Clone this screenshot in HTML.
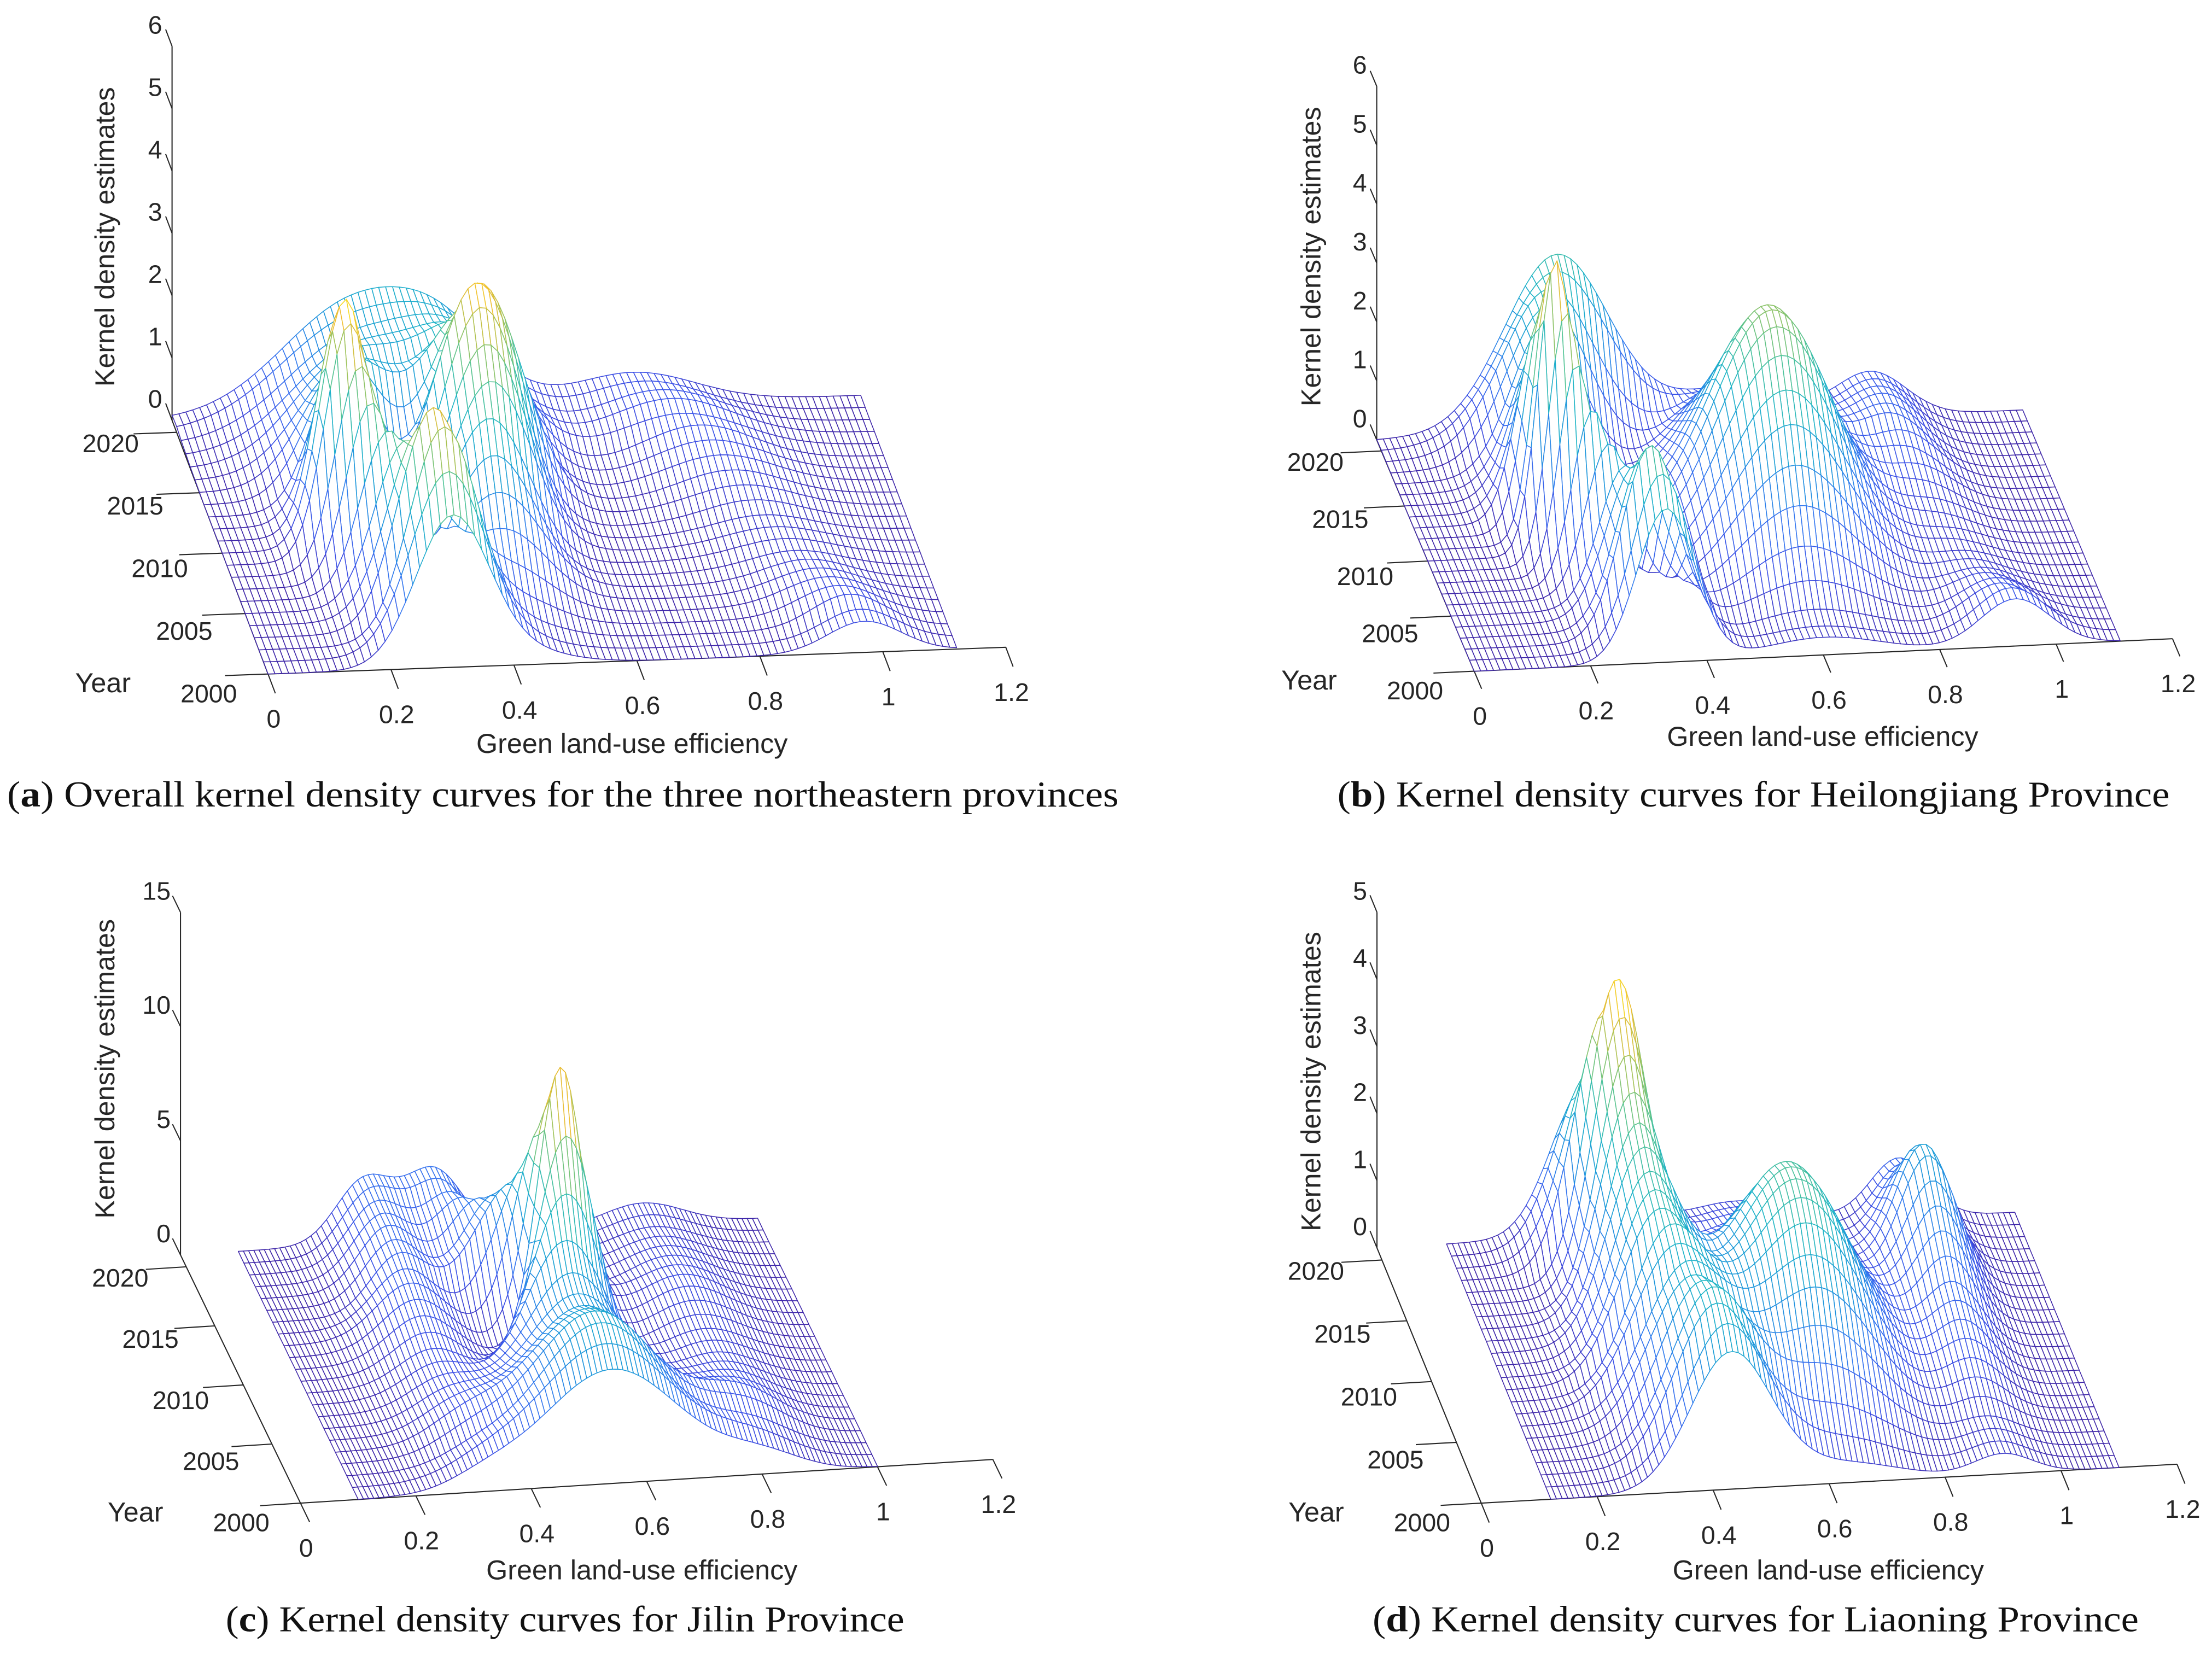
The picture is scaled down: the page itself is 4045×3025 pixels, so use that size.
<!DOCTYPE html>
<html><head><meta charset="utf-8"><style>
html,body{margin:0;padding:0;background:#fff}
svg{display:block}
.tk{font-family:"Liberation Sans",Arial,sans-serif;font-size:18px;fill:#262626}
.al{font-family:"Liberation Sans",Arial,sans-serif;font-size:19.5px;fill:#262626}
.cap{font-family:"Liberation Serif","Times New Roman",serif;font-size:26px;fill:#111}
</style></head><body>
<svg id="fig" xmlns="http://www.w3.org/2000/svg" width="4045" height="3025" viewBox="0 0 1568 1173" preserveAspectRatio="none">
<rect x="0" y="0" width="1568" height="1173" fill="#fff"/>
<text class="cap" x="5" y="572" textLength="788" lengthAdjust="spacingAndGlyphs">(<tspan font-weight="bold">a</tspan>) Overall kernel density curves for the three northeastern provinces</text>
<text class="cap" x="948" y="572" textLength="590" lengthAdjust="spacingAndGlyphs">(<tspan font-weight="bold">b</tspan>) Kernel density curves for Heilongjiang Province</text>
<text class="cap" x="160" y="1157" textLength="481" lengthAdjust="spacingAndGlyphs">(<tspan font-weight="bold">c</tspan>) Kernel density curves for Jilin Province</text>
<text class="cap" x="973" y="1157" textLength="543" lengthAdjust="spacingAndGlyphs">(<tspan font-weight="bold">d</tspan>) Kernel density curves for Liaoning Province</text>
</svg>
<script>
// ---- data (years 2000..2021) ----
var years = [2000,2001,2002,2003,2004,2005,2006,2007,2008,2009,2010,2011,2012,2013,2014,2015,2016,2017,2018,2019,2020,2021];
var xTicks = [0,0.2,0.4,0.6,0.8,1,1.2];
var xTickLabels = ["0","0.2","0.4","0.6","0.8","1","1.2"];
var yearTicks = [2000,2005,2010,2015,2020];
// panel a: overall
var aC1=[0.30,0.30,0.30,0.29,0.28,0.26,0.24,0.22,0.21,0.20,0.20,0.20,0.21,0.22,0.23,0.24,0.25,0.26,0.27,0.28,0.29,0.30];
var aH1=[2.4,2.9,3.4,3.5,3.0,2.6,2.6,2.9,3.3,3.8,4.0,3.6,3.0,2.5,2.2,2.0,1.8,1.7,1.6,1.6,1.7,1.8];
var aW1=[0.06,0.06,0.055,0.055,0.055,0.05,0.045,0.04,0.04,0.04,0.04,0.04,0.045,0.05,0.06,0.07,0.08,0.09,0.10,0.11,0.12,0.12];
var aC2=[0.42,0.42,0.42,0.42,0.42,0.42,0.42,0.42,0.42,0.43,0.43,0.43,0.43,0.44,0.44,0.44,0.45,0.45,0.45,0.45,0.45,0.45];
var aH2=[0.2,0.2,0.3,0.5,0.8,1.2,1.6,2.0,2.4,2.8,3.2,3.6,3.8,3.6,3.2,2.8,2.4,2.0,1.6,1.3,1.0,0.8];
var aW2=[0.07,0.07,0.07,0.07,0.07,0.07,0.07,0.065,0.065,0.065,0.065,0.065,0.07,0.07,0.07,0.075,0.075,0.08,0.08,0.08,0.08,0.08];
var aC3=[0.97,0.97,0.96,0.95,0.94,0.93,0.92,0.91,0.90,0.89,0.88,0.87,0.86,0.85,0.84,0.83,0.82,0.80,0.79,0.78,0.76,0.75];
var aH3=[0.5,0.5,0.55,0.5,0.45,0.4,0.35,0.3,0.3,0.3,0.3,0.35,0.4,0.45,0.5,0.55,0.6,0.6,0.65,0.6,0.55,0.5];
var aW3=[0.06,0.06,0.06,0.065,0.07,0.07,0.07,0.075,0.08,0.08,0.08,0.08,0.085,0.085,0.09,0.09,0.09,0.1,0.1,0.1,0.1,0.1];
// panel b: Heilongjiang
var bC1=[0.33,0.33,0.32,0.32,0.31,0.30,0.28,0.26,0.24,0.23,0.22,0.22,0.22,0.22,0.23,0.24,0.25,0.26,0.27,0.28,0.30,0.31];
var bH1=[2.6,3.0,3.3,3.0,2.6,2.4,2.6,3.0,3.6,4.3,5.0,4.6,4.0,3.5,3.0,2.8,2.6,2.6,2.7,2.8,2.9,3.0];
var bW1=[0.05,0.05,0.05,0.05,0.05,0.045,0.04,0.035,0.03,0.03,0.03,0.03,0.035,0.04,0.045,0.05,0.055,0.06,0.07,0.08,0.09,0.09];
var bC2=[0.60,0.60,0.60,0.60,0.60,0.60,0.60,0.60,0.60,0.60,0.60,0.60,0.60,0.60,0.60,0.60,0.60,0.60,0.60,0.60,0.60,0.60];
var bH2=[0.3,0.3,0.4,0.7,1.1,1.6,2.1,2.6,3.0,3.4,3.7,3.8,3.7,3.4,3.0,2.6,2.2,1.8,1.4,1.1,0.8,0.6];
var bW2=[0.1,0.1,0.1,0.1,0.1,0.1,0.1,0.1,0.1,0.1,0.1,0.1,0.1,0.1,0.1,0.1,0.1,0.1,0.1,0.1,0.1,0.1];
var bC3=[0.93,0.93,0.92,0.92,0.91,0.91,0.90,0.90,0.89,0.89,0.88,0.88,0.87,0.87,0.86,0.86,0.85,0.85,0.85,0.85,0.85,0.85];
var bH3=[0.8,0.8,0.7,0.6,0.5,0.4,0.35,0.3,0.3,0.3,0.35,0.4,0.5,0.6,0.7,0.8,0.9,0.9,0.9,0.85,0.8,0.75];
var bW3=[0.06,0.06,0.06,0.06,0.06,0.06,0.06,0.06,0.06,0.06,0.06,0.06,0.06,0.06,0.06,0.06,0.06,0.06,0.06,0.06,0.06,0.06];
// panel c: Jilin
var cC1=[0.54,0.54,0.54,0.54,0.54,0.54,0.54,0.54,0.54,0.55,0.56,0.56,0.56,0.55,0.54,0.52,0.50,0.48,0.46,0.45,0.44,0.44];
var cH1=[5,5.6,6,6,5.6,5.2,5.2,5.6,6.5,8,10,12.5,11,9,7,5.5,4.5,3.8,3.3,3.0,3.0,3.0];
var cW1=[0.12,0.12,0.11,0.11,0.11,0.10,0.09,0.08,0.07,0.06,0.05,0.04,0.045,0.05,0.06,0.07,0.06,0.055,0.05,0.05,0.05,0.05];
var cC2=[0.32,0.32,0.32,0.32,0.32,0.32,0.32,0.32,0.32,0.32,0.32,0.32,0.32,0.32,0.32,0.32,0.32,0.32,0.32,0.32,0.32,0.32];
var cH2=[0.5,0.5,0.6,0.8,1,1.2,1.3,1.4,1.5,1.6,1.8,2,2.2,2.4,2.5,2.6,2.7,2.8,2.8,2.8,2.8,2.8];
var cW2=[0.06,0.06,0.06,0.06,0.06,0.06,0.06,0.06,0.06,0.06,0.06,0.06,0.06,0.06,0.055,0.05,0.05,0.05,0.05,0.05,0.05,0.05];
var cC3=[0.80,0.80,0.80,0.80,0.80,0.80,0.80,0.80,0.80,0.80,0.80,0.80,0.80,0.80,0.80,0.80,0.80,0.80,0.80,0.80,0.80,0.80];
var cH3=[0.8,1,1.2,1.5,1.6,1.5,1.4,1.3,1.2,1.2,1.2,1.3,1.4,1.5,1.5,1.4,1.3,1.2,1.1,1,1,1];
var cW3=[0.07,0.07,0.07,0.07,0.07,0.07,0.07,0.07,0.07,0.07,0.07,0.07,0.07,0.07,0.07,0.07,0.07,0.07,0.07,0.07,0.07,0.07];
// panel d: Liaoning
var dC1=[0.43,0.43,0.42,0.42,0.41,0.40,0.40,0.39,0.39,0.38,0.38,0.38,0.38,0.38,0.38,0.38,0.38,0.38,0.37,0.37,0.36,0.36];
var dH1=[2.0,2.2,2.3,2.3,2.2,2.1,2.1,2.2,2.3,2.4,2.5,2.6,2.8,3.0,3.3,3.7,4.1,4.5,3.9,3.2,2.6,2.2];
var dW1=[0.07,0.07,0.07,0.07,0.07,0.07,0.07,0.07,0.065,0.065,0.06,0.06,0.06,0.055,0.055,0.05,0.05,0.05,0.055,0.06,0.06,0.06];
var dC2=[0.62,0.62,0.62,0.62,0.62,0.62,0.62,0.62,0.62,0.62,0.62,0.62,0.62,0.62,0.62,0.62,0.62,0.62,0.62,0.62,0.62,0.62];
var dH2=[0.3,0.5,0.8,1.2,1.6,2.0,2.3,2.6,2.8,2.9,2.9,2.8,2.5,2.2,1.8,1.4,1.1,0.9,0.7,0.6,0.5,0.4];
var dW2=[0.1,0.1,0.1,0.1,0.1,0.1,0.1,0.1,0.1,0.1,0.1,0.1,0.1,0.1,0.1,0.1,0.1,0.1,0.1,0.1,0.1,0.1];
var dC3=[0.90,0.90,0.90,0.90,0.90,0.90,0.90,0.90,0.90,0.90,0.90,0.90,0.90,0.90,0.90,0.90,0.90,0.90,0.90,0.90,0.90,0.90];
var dH3=[0.3,0.3,0.3,0.3,0.4,0.5,0.6,0.7,0.8,0.9,1.0,1.2,1.4,1.6,1.8,2.0,2.0,1.8,1.5,1.2,1.0,0.9];
var dW3=[0.05,0.05,0.05,0.05,0.05,0.05,0.05,0.05,0.05,0.05,0.05,0.05,0.05,0.05,0.05,0.05,0.05,0.05,0.05,0.05,0.05,0.05];

var NS="http://www.w3.org/2000/svg";
var svg=document.getElementById('fig');
var PAR=[[0,62,38,168],[0.13,60,80,230],[0.27,52,120,240],[0.4,30,150,220],[0.52,30,180,200],[0.65,80,195,150],[0.78,160,195,90],[0.9,240,190,50],[1,250,235,30]];
function cmap(t){t=Math.max(0,Math.min(1,t));for(var i=1;i<PAR.length;i++){if(t<=PAR[i][0]){var a=PAR[i-1],b=PAR[i],f=(t-a[0])/(b[0]-a[0]);return 'rgb('+Math.round(a[1]+f*(b[1]-a[1]))+','+Math.round(a[2]+f*(b[2]-a[2]))+','+Math.round(a[3]+f*(b[3]-a[3]))+')';}}return 'rgb(250,235,30)';}
function mk(tag,attrs,parent){var e=document.createElementNS(NS,tag);for(var k in attrs)e.setAttribute(k,attrs[k]);(parent||svg).appendChild(e);return e;}

function drawPanel(id,g,comps,zTicks){
  var grp=mk('g',{});
  
  
  function P(x,yi,z){return [g.O[0]+x*g.X[0]+yi*g.Y[0], g.O[1]+x*g.X[1]+yi*g.Y[1]-z*g.Z];}
  function dens(x,j){var s=0;for(var k=0;k<comps.length;k++){var c=comps[k][0][j],h=comps[k][1][j],w=comps[k][2][j];s+=h*Math.exp(-(x-c)*(x-c)/(2*w*w));}return s;}
  var ax=mk('g',{},grp);
  
  
  var ny=years.length-1;
  var o=P(0,0,0),xe=P(1.2,0,0),bk=P(0,ny,0),zt=P(0,ny,zTicks[zTicks.length-1]);
  var xl=mk('line',{x1:o[0],y1:o[1],x2:xe[0],y2:xe[1],stroke:'#262626','stroke-width':0.8},ax);
  
  var yl=mk('line',{x1:o[0],y1:o[1],x2:bk[0],y2:bk[1],stroke:'#262626','stroke-width':0.8},ax);
  
  var zl=mk('line',{x1:bk[0],y1:bk[1],x2:zt[0],y2:zt[1],stroke:'#262626','stroke-width':0.8},ax);
  
  xTicks.forEach(function(v,i){var p=P(v,0,0),q=P(v,-1.6,0);
    var t=mk('line',{x1:p[0],y1:p[1],x2:q[0],y2:q[1],stroke:'#262626','stroke-width':0.8},ax);
    
    var tx=mk('text',{x:p[0]+4,y:p[1]+38,'text-anchor':'middle','class':'tk'},ax);
    
    tx.textContent=xTickLabels[i];});
  yearTicks.forEach(function(v,i){var yi=v-years[0],p=P(0,yi,0),q=P(-0.07,yi,0);
    var t=mk('line',{x1:p[0],y1:p[1],x2:q[0],y2:q[1],stroke:'#262626','stroke-width':0.8},ax);
    
    var tx=mk('text',{x:p[0]-42-i*1.2,y:p[1]+20-i*1.5,'text-anchor':'middle','class':'tk'},ax);
    
    tx.textContent=String(v);});
  zTicks.forEach(function(v){var p=P(0,ny,v),q=P(0,ny+1.4,v);
    var t=mk('line',{x1:p[0],y1:p[1],x2:q[0],y2:q[1],stroke:'#262626','stroke-width':0.8},ax);
    
    var tx=mk('text',{x:p[0]-12-(v>=10?5:0),y:p[1]-9,'text-anchor':'middle','class':'tk'},ax);
    
    tx.textContent=String(v);});
  var yr=mk('text',{x:o[0]-117,y:o[1]+13,'text-anchor':'middle','class':'al'},ax);
  
  yr.textContent='Year';
  var xt=mk('text',{x:g.xlab[0],y:g.xlab[1],'text-anchor':'middle','class':'al'},ax);
  
  xt.textContent='Green land-use efficiency';
  var zl2=mk('text',{x:g.zlab[0],y:g.zlab[1],'text-anchor':'middle','class':'al',transform:'rotate(-90 '+g.zlab[0]+' '+g.zlab[1]+')'},ax);
  
  zl2.textContent='Kernel density estimates';
  var nx=100,xs=[],Z=[],zmax=0;
  for(var i=0;i<=nx;i++)xs.push(g.xr[0]+(g.xr[1]-g.xr[0])*i/nx);
  for(var j=0;j<=ny;j++){Z.push([]);for(var i=0;i<=nx;i++){var z=dens(xs[i],j);Z[j].push(z);if(z>zmax)zmax=z;}}
  var quads=[];
  for(var j=0;j<ny;j++)for(var i=0;i<nx;i++){
    var dep=(j+0.5)*Math.abs(g.Y[1])+((xs[i]+xs[i+1])/2)*Math.abs(g.X[1]);
    quads.push([dep,i,j]);}
  quads.sort(function(a,b){return b[0]-a[0];});
  var mesh=mk('g',{fill:'#fff','stroke-width':0.6,'stroke-linejoin':'round'},grp);
  
  
  quads.forEach(function(q){var i=q[1],j=q[2];
    var a=P(xs[i],j,Z[j][i]),b=P(xs[i+1],j,Z[j][i+1]),c=P(xs[i+1],j+1,Z[j+1][i+1]),d=P(xs[i],j+1,Z[j+1][i]);
    var zc=(Z[j][i]+Z[j][i+1]+Z[j+1][i]+Z[j+1][i+1])/4;
    var pth=mk('path',{d:'M'+a[0].toFixed(1)+' '+a[1].toFixed(1)+'L'+b[0].toFixed(1)+' '+b[1].toFixed(1)+'L'+c[0].toFixed(1)+' '+c[1].toFixed(1)+'L'+d[0].toFixed(1)+' '+d[1].toFixed(1)+'Z',stroke:cmap(zc/zmax)},mesh);
    
    
  });
}
drawPanel('a',{O:[190,478],X:[435.8,-15.8],Y:[-3.24,-8.57],Z:44.2,xr:[0,1.12],xlab:[448,534],zlab:[81,168]},
  [[aC1,aH1,aW1],[aC2,aH2,aW2],[aC3,aH3,aW3]],[0,1,2,3,4,5,6]);
drawPanel('b',{O:[1045,476],X:[412.5,-19.2],Y:[-3.29,-7.81],Z:41.8,xr:[0,1.11],xlab:[1292,529],zlab:[936,182]},
  [[bC1,bH1,bW1],[bC2,bH2,bW2],[bC3,bH3,bW3]],[0,1,2,3,4,5,6]);
drawPanel('c',{O:[213,1066],X:[409,-25.8],Y:[-4.05,-8.38],Z:16.2,xr:[0.1,1.0],xlab:[455,1120],zlab:[81,758]},
  [[cC1,cH1,cW1],[cC2,cH2,cW2],[cC3,cH3,cW3]],[0,5,10,15]);
drawPanel('d',{O:[1050,1066],X:[411,-23],Y:[-3.52,-8.62],Z:47.6,xr:[0.12,1.1],xlab:[1296,1120],zlab:[936,767]},
  [[dC1,dH1,dW1],[dC2,dH2,dW2],[dC3,dH3,dW3]],[0,1,2,3,4,5]);
</script>
</body></html>
